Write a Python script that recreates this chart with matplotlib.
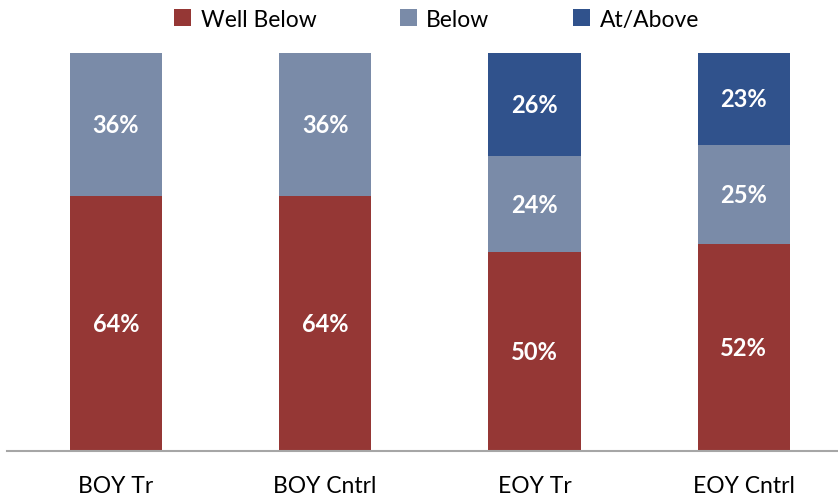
import numpy as np
import matplotlib.pyplot as plt

plt.rcParams['font.family'] = ['Lato', 'DejaVu Sans']

groups = ['BOY Tr', 'BOY Cntrl', 'EOY Tr', 'EOY Cntrl']
well_below = [64, 64, 50, 52]
below = [36, 36, 24, 25]
at_above = [0, 0, 26, 23]

series = [('Well Below', well_below, '#953735'),
          ('Below', below, '#7A8BA8'),
          ('At/Above', at_above, '#30528C')]

fig = plt.figure(figsize=(8.38, 5.02), dpi=100)
ax = fig.add_axes([7 / 838, 50 / 502, 831 / 838, 398 / 502])

x = np.arange(len(groups))
bottom = np.zeros(len(groups))
for name, vals, color in series:
    vals = np.array(vals, dtype=float)
    ax.bar(x, vals, 0.44, bottom=bottom, color=color, label=name)
    for xi, b, v in zip(x, bottom, vals):
        if v > 0:
            ax.text(xi, b + v / 2, f'{v:.0f}%', ha='center', va='center',
                    color='white', fontsize=17, fontweight='bold')
    bottom += vals

ax.set_xlim(-0.52, 3.45)
ax.set_ylim(0, 100)
ax.set_yticks([])
ax.set_xticks(x)
ax.set_xticklabels(groups, fontsize=16.5)
ax.tick_params(axis='x', length=0, pad=17)
for side in ['top', 'right', 'left']:
    ax.spines[side].set_visible(False)
ax.spines['bottom'].set_color('#A6A6A6')
ax.spines['bottom'].set_linewidth(1.5)

ax.legend(loc='center', bbox_to_anchor=(0.517, 1.085), ncol=3, frameon=False,
          fontsize=16.5, handlelength=0.75, handleheight=0.75, handletextpad=0.4,
          columnspacing=3.65)

fig.savefig('out.png', dpi=100)
